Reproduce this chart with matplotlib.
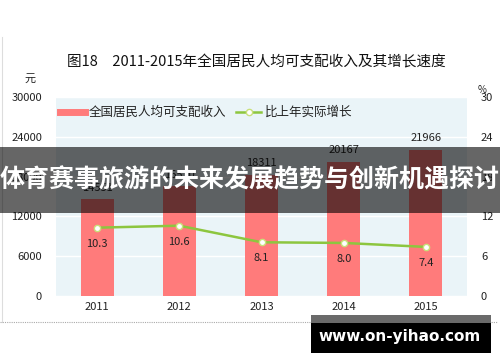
"""Recreation: 2011-2015 per-capita disposable income and growth, with overlay banner."""
import matplotlib
matplotlib.use("Agg")
import matplotlib.pyplot as plt
from matplotlib.lines import Line2D
from matplotlib.patches import Rectangle

plt.rcParams['font.family'] = ['Noto Sans CJK SC', 'DejaVu Sans']

years = ["2011", "2012", "2013", "2014", "2015"]
income = [14551, 16510, 18311, 20167, 21966]
growth = [10.3, 10.6, 8.1, 8.0, 7.4]
left_ticks = [0, 6000, 12000, 18000, 24000, 30000]
right_ticks = [0, 6, 12, 18, 24, 30]

BAR = "#ff7b7b"
GREEN = "#8dc63f"
BG = "#eaf4f8"
TXT = "#222222"

W, H = 500, 362
fig = plt.figure(figsize=(W / 100, H / 100), dpi=100)
fig.patch.set_facecolor("white")


def px(x0, y0, x1, y1):
    # pixel box (top-left origin) -> figure fraction rect
    return [x0 / W, 1 - y1 / H, (x1 - x0) / W, (y1 - y0) / H]


ax = fig.add_axes(px(56, 97, 467, 296))
ax.set_facecolor(BG)
x = range(len(years))
ax.bar(x, income, width=0.4, color=BAR, zorder=2)
ax.set_xlim(-0.5, 4.5)
ax.set_ylim(0, 30000)
ax.set_yticks(left_ticks)
ax.set_yticklabels([str(t) for t in left_ticks])
ax.set_xticks(list(x))
ax.set_xticklabels(years)
ax.grid(axis="y", color="white", lw=1)
ax.set_axisbelow(True)
ax.tick_params(length=0, labelsize=8, colors=TXT)
ax.tick_params(axis="y", pad=10)
ax.tick_params(axis="x", pad=4)
for s in ax.spines.values():
    s.set_visible(False)
for i, v in enumerate(income):
    ax.annotate(str(v), (i, v), xytext=(0, 8.5), textcoords="offset points",
                ha="center", va="center", fontsize=8, color=TXT)

ax2 = ax.twinx()
ax2.set_ylim(0, 30)
ax2.set_yticks(right_ticks)
ax2.set_yticklabels([str(t) for t in right_ticks])
ax2.tick_params(length=0, labelsize=8, colors=TXT, pad=10)
for s in ax2.spines.values():
    s.set_visible(False)
ax2.plot(list(x), growth, color=GREEN, lw=1.8, marker="o", ms=4.5,
         mfc="white", mec="#c9e07a", mew=1.0, zorder=3)
for i, v in enumerate(growth):
    ax2.annotate(f"{v:.1f}", (i, v), xytext=(0, -11.5), textcoords="offset points",
                 ha="center", va="center", fontsize=8, color=TXT)

handles = [Line2D([], [], color=BAR, lw=5),
           Line2D([], [], color=GREEN, lw=1.8, marker="o", ms=4.5,
                  mfc="white", mec="#c9e07a")]
leg = ax.legend(handles, ["全国居民人均可支配收入", "比上年实际增长"], ncol=2,
                loc="upper left", bbox_to_anchor=(0.01, 0.955), frameon=False,
                fontsize=9, handlelength=2.0, handletextpad=0.3,
                columnspacing=0.8, borderpad=0, borderaxespad=0)
for t in leg.get_texts():
    t.set_color(TXT)

fig.text(256 / W, 1 - 62 / H, "图18　2011-2015年全国居民人均可支配收入及其增长速度",
         ha="center", va="center", fontsize=10.5, color="#111111")
fig.text(30 / W, 1 - 79 / H, "元", ha="center", va="center", fontsize=8, color=TXT)
fig.text(478 / W, 1 - 90 / H, "%", ha="left", va="center", fontsize=7, color=TXT)

# frame bits
fig.add_artist(Line2D([1.5 / W, 1.5 / W], [1 - 37 / H, 1 - 322 / H], color="#dddddd", lw=0.8))
fig.add_artist(Line2D([0, 497 / W], [1 - 322 / H, 1 - 322 / H], color="#aaaaaa",
                      lw=0.8, ls=(0, (1, 1))))

# banner
fig.add_artist(Rectangle((0, 1 - 213 / H), 1, 66 / H, transform=fig.transFigure,
                         facecolor="black", alpha=0.6, edgecolor="none", zorder=10))
fig.text(0.5, 1 - 180 / H, "体育赛事旅游的未来发展趋势与创新机遇探讨", ha="center",
         va="center", fontsize=18, fontweight="bold", color="white", zorder=11)

# watermark box
fig.add_artist(Rectangle((311 / W, 1 - 323 / H), 180 / W, 8 / H, transform=fig.transFigure,
                         facecolor="#6a6a6a", edgecolor="none", zorder=10))
fig.add_artist(Rectangle((311 / W, 1 - 353 / H), 180 / W, 30 / H, transform=fig.transFigure,
                         facecolor="black", edgecolor="none", zorder=10))
fig.text(400 / W, 1 - 337 / H, "www.on-yihao.com", ha="center", va="center",
         fontsize=11, fontweight="bold", color="white", family="DejaVu Sans", zorder=11)

fig.savefig("out.png", dpi=100)
